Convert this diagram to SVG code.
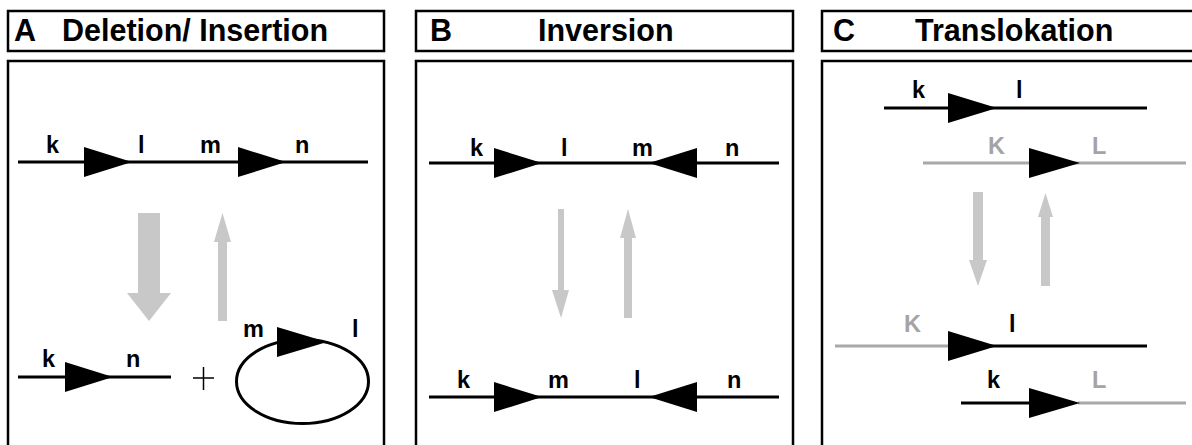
<svg xmlns="http://www.w3.org/2000/svg" width="1192" height="445" viewBox="0 0 1192 445">
<style>
.box{fill:none;stroke:#000;stroke-width:2.5}
.title{font-family:"Liberation Sans",Arial,sans-serif;font-weight:bold;font-size:30.5px;fill:#000}
.lbl{font-family:"Liberation Sans",Arial,sans-serif;font-weight:bold;font-size:23.5px;fill:#000}
.glbl{font-family:"Liberation Sans",Arial,sans-serif;font-weight:bold;font-size:23.5px;fill:#a4a4a4}
.bl{stroke:#000;stroke-width:3;fill:none}
.gl{stroke:#a8a8a8;stroke-width:3;fill:none}
.tri{fill:#000}
.garr{fill:#c8c8c8}
</style>
<rect width="1192" height="445" fill="#fff"/>

<g id="panelA">
  <rect class="box" x="8" y="11" width="376" height="40"/>
  <text class="title" x="14" y="41">A</text>
  <text class="title" x="62" y="41">Deletion/ Insertion</text>
  <rect class="box" x="8" y="61" width="376" height="400"/>
</g>
<g id="panelB">
  <rect class="box" x="416" y="11" width="377" height="40"/>
  <text class="title" x="430" y="41">B</text>
  <text class="title" x="538" y="41">Inversion</text>
  <rect class="box" x="416" y="61" width="377" height="400"/>
</g>
<g id="panelC">
  <rect class="box" x="822" y="11" width="400" height="40"/>
  <text class="title" x="833" y="41">C</text>
  <text class="title" x="915" y="41">Translokation</text>
  <rect class="box" x="822" y="61" width="400" height="400"/>
</g>

<g id="A-top">
  <line class="bl" x1="18" y1="162" x2="368" y2="162"/>
  <polygon class="tri" points="84,147 132,162 84,177"/>
  <polygon class="tri" points="238,147 286,162 238,177"/>
  <text class="lbl" x="46" y="153">k</text>
  <text class="lbl" x="138" y="153">l</text>
  <text class="lbl" x="200" y="153">m</text>
  <text class="lbl" x="295" y="153">n</text>
</g>
<g id="A-bottom-linear">
  <line class="bl" x1="18" y1="377" x2="171" y2="377"/>
  <polygon class="tri" points="65,362 113,377 65,392"/>
  <text class="lbl" x="42" y="367">k</text>
  <text class="lbl" x="126" y="367">n</text>
</g>
<g id="A-plus">
  <line x1="193" y1="378" x2="214" y2="378" stroke="#000" stroke-width="1.5"/>
  <line x1="203.5" y1="367" x2="203.5" y2="390" stroke="#000" stroke-width="1.5"/>
</g>
<g id="A-circle">
  <ellipse class="bl" cx="302.5" cy="381.5" rx="66" ry="42"/>
  <polygon class="tri" points="277,327 327,342 277,357"/>
  <text class="lbl" x="243" y="337">m</text>
  <text class="lbl" x="352" y="337">l</text>
</g>

<g id="B-top">
  <line class="bl" x1="429" y1="163" x2="779" y2="163"/>
  <polygon class="tri" points="494,148 542,163 494,178"/>
  <polygon class="tri" points="697,148 649,163 697,178"/>
  <text class="lbl" x="470" y="156">k</text>
  <text class="lbl" x="561" y="156">l</text>
  <text class="lbl" x="632" y="156">m</text>
  <text class="lbl" x="725" y="156">n</text>
</g>
<g id="B-bottom">
  <line class="bl" x1="429" y1="397" x2="779" y2="397"/>
  <polygon class="tri" points="494,382 542,397 494,412"/>
  <polygon class="tri" points="697,382 649,397 697,412"/>
  <text class="lbl" x="457" y="388">k</text>
  <text class="lbl" x="548" y="388">m</text>
  <text class="lbl" x="634" y="388">l</text>
  <text class="lbl" x="727" y="388">n</text>
</g>

<g id="C-top1">
  <line class="bl" x1="884" y1="108" x2="1147" y2="108"/>
  <polygon class="tri" points="948,93 997,108 948,123"/>
  <text class="lbl" x="912" y="98">k</text>
  <text class="lbl" x="1016" y="98">l</text>
</g>
<g id="C-top2">
  <line class="gl" x1="923" y1="163" x2="1186" y2="163"/>
  <polygon class="tri" points="1029,148 1080,163 1029,178"/>
  <text class="glbl" x="988" y="154">K</text>
  <text class="glbl" x="1092" y="154">L</text>
</g>
<g id="C-bot1">
  <line class="gl" x1="835" y1="346" x2="950" y2="346"/>
  <line class="bl" x1="990" y1="346" x2="1147" y2="346"/>
  <polygon class="tri" points="948,331 997,346 948,361"/>
  <text class="glbl" x="904" y="332">K</text>
  <text class="lbl" x="1009" y="332">l</text>
</g>
<g id="C-bot2">
  <line class="bl" x1="961" y1="403" x2="1032" y2="403"/>
  <line class="gl" x1="1078" y1="403" x2="1186" y2="403"/>
  <polygon class="tri" points="1029,388 1080,403 1029,418"/>
  <text class="lbl" x="987" y="388">k</text>
  <text class="glbl" x="1092" y="388">L</text>
</g>

<g id="connectors">
  <polygon class="garr" points="138,213 160,213 160,293 171,293 149,321 127,293 138,293"/>
  <polygon class="garr" points="218,321 227,321 227,242 231,242 222.5,213 214,242 218,242"/>
  <polygon class="garr" points="558,209 564,209 564,290 569,290 561,318 552,290 558,290"/>
  <polygon class="garr" points="624,318 632,318 632,238 636,238 628,209 620,238 624,238"/>
  <polygon class="garr" points="973,192 983,192 983,260 987,260 978,286 969,260 973,260"/>
  <polygon class="garr" points="1041,286 1050,286 1050,217 1053,217 1045.5,193 1038,217 1041,217"/>
</g>
</svg>
